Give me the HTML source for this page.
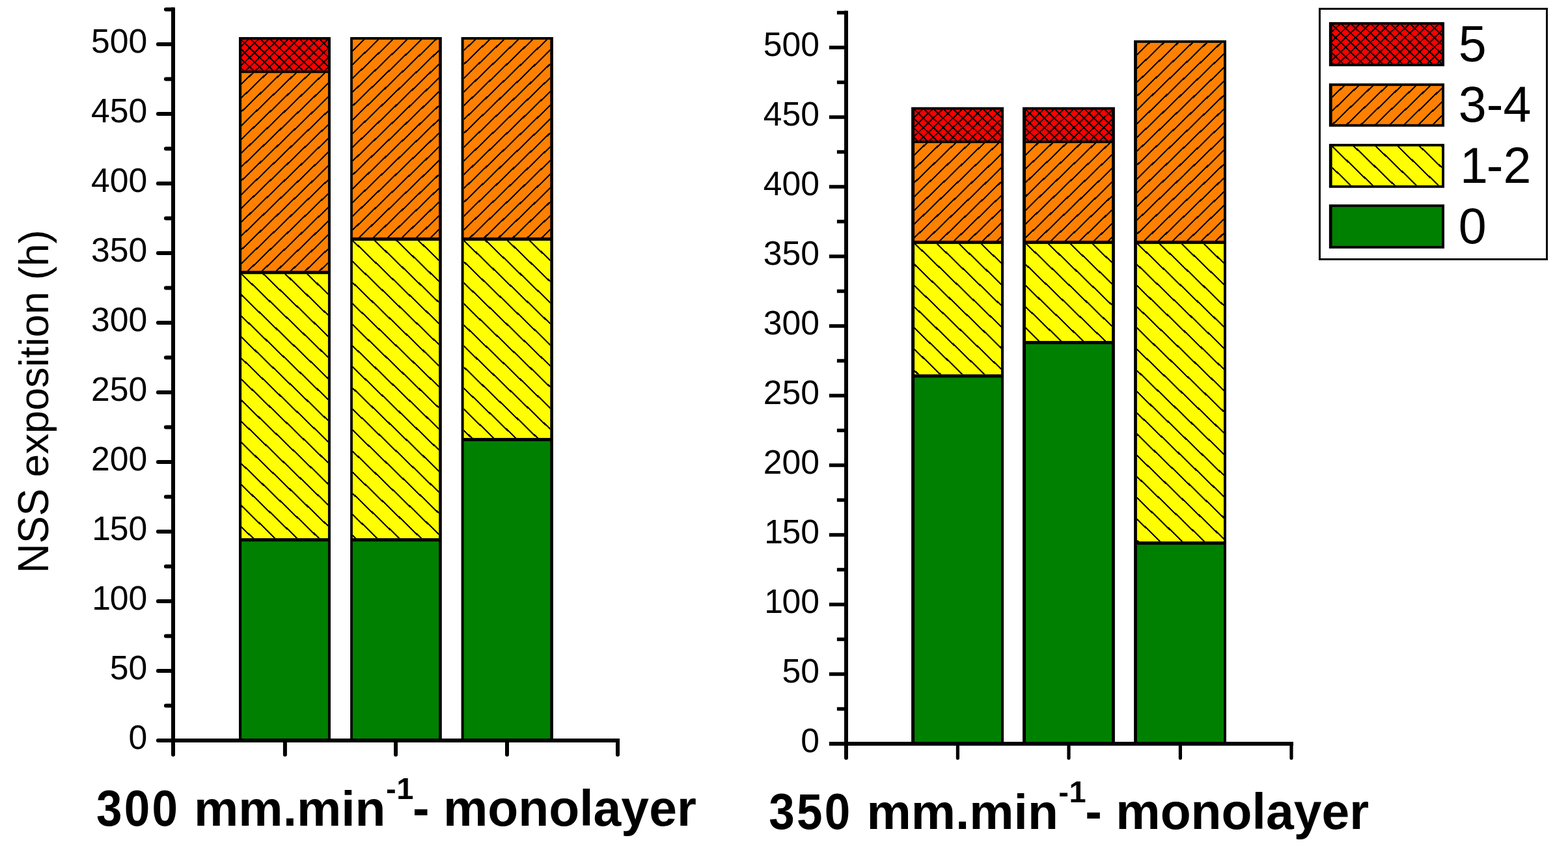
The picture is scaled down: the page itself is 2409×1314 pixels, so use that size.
<!DOCTYPE html>
<html lang="en"><head><meta charset="utf-8"><title>NSS exposition chart</title>
<style>
html,body{margin:0;padding:0;background:#fff;overflow:hidden}
svg{display:block;font-family:"Liberation Sans", sans-serif;fill:#000}
</style></head><body>
<svg width="2409" height="1314" viewBox="0 0 2409 1314" role="img" aria-label="Stacked bar charts of NSS exposition (h) for 300 and 350 mm.min-1 monolayer">
<rect width="2409" height="1314" fill="#fff"/>
<rect x="367" y="56.99" width="140.95" height="1083.01" fill="#000"/>
<rect x="371.1" y="60.89" width="132.8" height="47.46" fill="#ff0000"/>
<clipPath id="c1"><rect x="371.1" y="60.89" width="132.8" height="47.46"/></clipPath>
<path clip-path="url(#c1)" d="M370.1 71.93L504.9 -57.75M370.1 86.53L504.9 -43.15M370.1 101.13L504.9 -28.55M370.1 115.73L504.9 -13.95M370.1 130.33L504.9 0.65M370.1 144.93L504.9 15.25M370.1 159.53L504.9 29.85M370.1 174.13L504.9 44.45M370.1 188.73L504.9 59.05M370.1 203.33L504.9 73.65M370.1 217.93L504.9 88.25M370.1 232.53L504.9 102.85M370.1 -56.05L504.9 73.63M370.1 -41.45L504.9 88.23M370.1 -26.85L504.9 102.83M370.1 -12.25L504.9 117.43M370.1 2.35L504.9 132.03M370.1 16.95L504.9 146.63M370.1 31.55L504.9 161.23M370.1 46.15L504.9 175.83M370.1 60.75L504.9 190.43M370.1 75.35L504.9 205.03M370.1 89.95L504.9 219.63M370.1 104.55L504.9 234.23" stroke="#000" stroke-width="1.95" fill="none" shape-rendering="crispEdges"/>
<rect x="371.1" y="112.25" width="132.8" height="304.01" fill="#ff8000"/>
<clipPath id="c2"><rect x="371.1" y="112.25" width="132.8" height="304.01"/></clipPath>
<path clip-path="url(#c2)" d="M370.1 129.89L504.9 0.21M370.1 151.09L504.9 21.41M370.1 172.29L504.9 42.61M370.1 193.49L504.9 63.81M370.1 214.69L504.9 85.01M370.1 235.89L504.9 106.21M370.1 257.09L504.9 127.41M370.1 278.29L504.9 148.61M370.1 299.49L504.9 169.81M370.1 320.69L504.9 191.01M370.1 341.89L504.9 212.21M370.1 363.09L504.9 233.41M370.1 384.29L504.9 254.61M370.1 405.49L504.9 275.81M370.1 426.69L504.9 297.01M370.1 447.89L504.9 318.21M370.1 469.09L504.9 339.41M370.1 490.29L504.9 360.61M370.1 511.49L504.9 381.81M370.1 532.69L504.9 403.01" stroke="#000" stroke-width="2.2" fill="none" shape-rendering="crispEdges"/>
<rect x="371.1" y="421.26" width="132.8" height="405.88" fill="#ffff00"/>
<clipPath id="c3"><rect x="371.1" y="421.26" width="132.8" height="405.88"/></clipPath>
<path clip-path="url(#c3)" d="M370.1 323.07L504.9 452.75M370.1 355.47L504.9 485.15M370.1 387.87L504.9 517.55M370.1 420.27L504.9 549.95M370.1 452.67L504.9 582.35M370.1 485.07L504.9 614.75M370.1 517.47L504.9 647.15M370.1 549.87L504.9 679.55M370.1 582.27L504.9 711.95M370.1 614.67L504.9 744.35M370.1 647.07L504.9 776.75M370.1 679.47L504.9 809.15M370.1 711.87L504.9 841.55M370.1 744.27L504.9 873.95M370.1 776.67L504.9 906.35M370.1 809.07L504.9 938.75" stroke="#000" stroke-width="2.2" fill="none" shape-rendering="crispEdges"/>
<rect x="371.1" y="832.14" width="132.8" height="303.86" fill="#008000"/>
<rect x="538.1" y="56.99" width="140.7" height="1083.01" fill="#000"/>
<rect x="541.9" y="60.89" width="132.3" height="304.01" fill="#ff8000"/>
<clipPath id="c4"><rect x="541.9" y="60.89" width="132.3" height="304.01"/></clipPath>
<path clip-path="url(#c4)" d="M540.9 78.67L675.2 -50.52M540.9 99.87L675.2 -29.32M540.9 121.07L675.2 -8.12M540.9 142.27L675.2 13.08M540.9 163.47L675.2 34.28M540.9 184.67L675.2 55.48M540.9 205.87L675.2 76.68M540.9 227.07L675.2 97.88M540.9 248.27L675.2 119.08M540.9 269.47L675.2 140.28M540.9 290.67L675.2 161.48M540.9 311.87L675.2 182.68M540.9 333.07L675.2 203.88M540.9 354.27L675.2 225.08M540.9 375.47L675.2 246.28M540.9 396.67L675.2 267.48M540.9 417.87L675.2 288.68M540.9 439.07L675.2 309.88M540.9 460.27L675.2 331.08M540.9 481.47L675.2 352.28" stroke="#000" stroke-width="2.2" fill="none" shape-rendering="crispEdges"/>
<rect x="541.9" y="369.9" width="132.3" height="457.24" fill="#ffff00"/>
<clipPath id="c5"><rect x="541.9" y="369.9" width="132.3" height="457.24"/></clipPath>
<path clip-path="url(#c5)" d="M540.9 271.57L675.2 400.76M540.9 303.97L675.2 433.16M540.9 336.37L675.2 465.56M540.9 368.77L675.2 497.96M540.9 401.17L675.2 530.36M540.9 433.57L675.2 562.76M540.9 465.97L675.2 595.16M540.9 498.37L675.2 627.56M540.9 530.77L675.2 659.96M540.9 563.17L675.2 692.36M540.9 595.57L675.2 724.76M540.9 627.97L675.2 757.16M540.9 660.37L675.2 789.56M540.9 692.77L675.2 821.96M540.9 725.17L675.2 854.36M540.9 757.57L675.2 886.76M540.9 789.97L675.2 919.16M540.9 822.37L675.2 951.56" stroke="#000" stroke-width="2.2" fill="none" shape-rendering="crispEdges"/>
<rect x="541.9" y="832.14" width="132.3" height="303.86" fill="#008000"/>
<rect x="708.6" y="56.99" width="141.3" height="1083.01" fill="#000"/>
<rect x="712.6" y="60.89" width="132.7" height="304.01" fill="#ff8000"/>
<clipPath id="c6"><rect x="712.6" y="60.89" width="132.7" height="304.01"/></clipPath>
<path clip-path="url(#c6)" d="M711.6 78.58L846.3 -51.01M711.6 99.78L846.3 -29.81M711.6 120.98L846.3 -8.61M711.6 142.18L846.3 12.59M711.6 163.38L846.3 33.79M711.6 184.58L846.3 54.99M711.6 205.78L846.3 76.19M711.6 226.98L846.3 97.39M711.6 248.18L846.3 118.59M711.6 269.38L846.3 139.79M711.6 290.58L846.3 160.99M711.6 311.78L846.3 182.19M711.6 332.98L846.3 203.39M711.6 354.18L846.3 224.59M711.6 375.38L846.3 245.79M711.6 396.58L846.3 266.99M711.6 417.78L846.3 288.19M711.6 438.98L846.3 309.39M711.6 460.18L846.3 330.59M711.6 481.38L846.3 351.79" stroke="#000" stroke-width="2.2" fill="none" shape-rendering="crispEdges"/>
<rect x="712.6" y="369.9" width="132.7" height="303.16" fill="#ffff00"/>
<clipPath id="c7"><rect x="712.6" y="369.9" width="132.7" height="303.16"/></clipPath>
<path clip-path="url(#c7)" d="M711.6 271.66L846.3 401.25M711.6 304.06L846.3 433.65M711.6 336.46L846.3 466.05M711.6 368.86L846.3 498.45M711.6 401.26L846.3 530.85M711.6 433.66L846.3 563.25M711.6 466.06L846.3 595.65M711.6 498.46L846.3 628.05M711.6 530.86L846.3 660.45M711.6 563.26L846.3 692.85M711.6 595.66L846.3 725.25M711.6 628.06L846.3 757.65M711.6 660.46L846.3 790.05" stroke="#000" stroke-width="2.2" fill="none" shape-rendering="crispEdges"/>
<rect x="712.6" y="678.06" width="132.7" height="457.94" fill="#008000"/>
<g stroke="#000" stroke-width="6" stroke-linecap="round" fill="none">
<path stroke-width="6" d="M254.9 1084.5H266M242.9 1031H266M254.9 977.5H266M242.9 924H266M254.9 870.5H266M242.9 817H266M254.9 763.5H266M242.9 710H266M254.9 656.5H266M242.9 603H266M254.9 549.5H266M242.9 496H266M254.9 442.5H266M242.9 389H266M254.9 335.5H266M242.9 282H266M254.9 228.5H266M242.9 175H266M254.9 121.5H266M242.9 68H266M254.9 14.5H266"/>
<path stroke-width="6" stroke-linecap="round" d="M437.9 1138V1159.7M608 1138V1159.7M779 1138V1159.7M949 1138V1159.7"/>
<path stroke-linecap="round" d="M242.9 1138H949"/>
<path stroke-linecap="butt" d="M266 11.5V1150M266 1138H952"/>
<path stroke-linecap="round" d="M266 1148V1159.7"/>
</g>
<g font-size="51.7">
<text x="197.44" y="1151.3">0</text>
<text x="168.69" y="1044.3">50</text>
<text y="937.3"><tspan x="141.33">1</tspan><tspan x="168.69">00</tspan></text>
<text y="830.3"><tspan x="141.33">1</tspan><tspan x="168.69">50</tspan></text>
<text x="139.93" y="723.3">200</text>
<text x="139.93" y="616.3">250</text>
<text x="139.93" y="509.3">300</text>
<text x="139.93" y="402.3">350</text>
<text x="139.93" y="295.3">400</text>
<text x="139.93" y="188.3">450</text>
<text x="139.93" y="81.3">500</text>
</g>
<rect x="1400.1" y="164.71" width="142" height="980.29" fill="#000"/>
<rect x="1405.1" y="168.61" width="132.9" height="47.46" fill="#ff0000"/>
<clipPath id="c8"><rect x="1405.1" y="168.61" width="132.9" height="47.46"/></clipPath>
<path clip-path="url(#c8)" d="M1404.1 180.89L1539 51.11M1404.1 195.49L1539 65.71M1404.1 210.09L1539 80.31M1404.1 224.69L1539 94.91M1404.1 239.29L1539 109.51M1404.1 253.89L1539 124.11M1404.1 268.49L1539 138.71M1404.1 283.09L1539 153.31M1404.1 297.69L1539 167.91M1404.1 312.29L1539 182.51M1404.1 326.89L1539 197.11M1404.1 341.49L1539 211.71M1404.1 50.83L1539 180.61M1404.1 65.43L1539 195.21M1404.1 80.03L1539 209.81M1404.1 94.63L1539 224.41M1404.1 109.23L1539 239.01M1404.1 123.83L1539 253.61M1404.1 138.43L1539 268.21M1404.1 153.03L1539 282.81M1404.1 167.63L1539 297.41M1404.1 182.23L1539 312.01M1404.1 196.83L1539 326.61M1404.1 211.43L1539 341.21" stroke="#000" stroke-width="1.95" fill="none" shape-rendering="crispEdges"/>
<rect x="1405.1" y="219.97" width="132.9" height="149.93" fill="#ff8000"/>
<clipPath id="c9"><rect x="1405.1" y="219.97" width="132.9" height="149.93"/></clipPath>
<path clip-path="url(#c9)" d="M1404.1 238.85L1539 109.07M1404.1 260.05L1539 130.27M1404.1 281.25L1539 151.47M1404.1 302.45L1539 172.67M1404.1 323.65L1539 193.87M1404.1 344.85L1539 215.07M1404.1 366.05L1539 236.27M1404.1 387.25L1539 257.47M1404.1 408.45L1539 278.67M1404.1 429.65L1539 299.87M1404.1 450.85L1539 321.07M1404.1 472.05L1539 342.27M1404.1 493.25L1539 363.47" stroke="#000" stroke-width="2.2" fill="none" shape-rendering="crispEdges"/>
<rect x="1405.1" y="374.9" width="132.9" height="200.44" fill="#ffff00"/>
<clipPath id="c10"><rect x="1405.1" y="374.9" width="132.9" height="200.44"/></clipPath>
<path clip-path="url(#c10)" d="M1404.1 275.24L1539 405.02M1404.1 307.85L1539 437.63M1404.1 340.46L1539 470.24M1404.1 373.07L1539 502.85M1404.1 405.68L1539 535.46M1404.1 438.29L1539 568.07M1404.1 470.91L1539 600.68M1404.1 503.52L1539 633.29M1404.1 536.13L1539 665.9M1404.1 568.74L1539 698.51" stroke="#000" stroke-width="2.2" fill="none" shape-rendering="crispEdges"/>
<rect x="1405.1" y="580.34" width="132.9" height="560.66" fill="#008000"/>
<rect x="1571" y="164.71" width="141.9" height="980.29" fill="#000"/>
<rect x="1576" y="168.61" width="132.1" height="47.46" fill="#ff0000"/>
<clipPath id="c11"><rect x="1576" y="168.61" width="132.1" height="47.46"/></clipPath>
<path clip-path="url(#c11)" d="M1575 180.89L1709.1 51.88M1575 195.49L1709.1 66.48M1575 210.09L1709.1 81.08M1575 224.69L1709.1 95.68M1575 239.29L1709.1 110.28M1575 253.89L1709.1 124.88M1575 268.49L1709.1 139.48M1575 283.09L1709.1 154.08M1575 297.69L1709.1 168.68M1575 312.29L1709.1 183.28M1575 326.89L1709.1 197.88M1575 341.49L1709.1 212.48M1575 50.83L1709.1 179.84M1575 65.43L1709.1 194.44M1575 80.03L1709.1 209.04M1575 94.63L1709.1 223.64M1575 109.23L1709.1 238.24M1575 123.83L1709.1 252.84M1575 138.43L1709.1 267.44M1575 153.03L1709.1 282.04M1575 167.63L1709.1 296.64M1575 182.23L1709.1 311.24M1575 196.83L1709.1 325.84M1575 211.43L1709.1 340.44" stroke="#000" stroke-width="1.95" fill="none" shape-rendering="crispEdges"/>
<rect x="1576" y="219.97" width="132.1" height="149.93" fill="#ff8000"/>
<clipPath id="c12"><rect x="1576" y="219.97" width="132.1" height="149.93"/></clipPath>
<path clip-path="url(#c12)" d="M1575 238.85L1709.1 109.84M1575 260.05L1709.1 131.04M1575 281.25L1709.1 152.24M1575 302.45L1709.1 173.44M1575 323.65L1709.1 194.64M1575 344.85L1709.1 215.84M1575 366.05L1709.1 237.04M1575 387.25L1709.1 258.24M1575 408.45L1709.1 279.44M1575 429.65L1709.1 300.64M1575 450.85L1709.1 321.84M1575 472.05L1709.1 343.04M1575 493.25L1709.1 364.24" stroke="#000" stroke-width="2.2" fill="none" shape-rendering="crispEdges"/>
<rect x="1576" y="374.9" width="132.1" height="149.08" fill="#ffff00"/>
<clipPath id="c13"><rect x="1576" y="374.9" width="132.1" height="149.08"/></clipPath>
<path clip-path="url(#c13)" d="M1575 275.24L1709.1 404.25M1575 307.85L1709.1 436.86M1575 340.46L1709.1 469.47M1575 373.07L1709.1 502.08M1575 405.68L1709.1 534.69M1575 438.29L1709.1 567.3M1575 470.91L1709.1 599.91M1575 503.52L1709.1 632.52" stroke="#000" stroke-width="2.2" fill="none" shape-rendering="crispEdges"/>
<rect x="1576" y="528.98" width="132.1" height="612.02" fill="#008000"/>
<rect x="1742.1" y="61.99" width="141.9" height="1083.01" fill="#000"/>
<rect x="1746.9" y="65.89" width="133.1" height="304.01" fill="#ff8000"/>
<clipPath id="c14"><rect x="1746.9" y="65.89" width="133.1" height="304.01"/></clipPath>
<path clip-path="url(#c14)" d="M1745.9 84.86L1881 -45.1M1745.9 106.06L1881 -23.9M1745.9 127.26L1881 -2.7M1745.9 148.46L1881 18.5M1745.9 169.66L1881 39.7M1745.9 190.86L1881 60.9M1745.9 212.06L1881 82.1M1745.9 233.26L1881 103.3M1745.9 254.46L1881 124.5M1745.9 275.66L1881 145.7M1745.9 296.86L1881 166.9M1745.9 318.06L1881 188.1M1745.9 339.26L1881 209.3M1745.9 360.46L1881 230.5M1745.9 381.66L1881 251.7M1745.9 402.86L1881 272.9M1745.9 424.06L1881 294.1M1745.9 445.26L1881 315.3M1745.9 466.46L1881 336.5M1745.9 487.66L1881 357.7" stroke="#000" stroke-width="2.2" fill="none" shape-rendering="crispEdges"/>
<rect x="1746.9" y="374.9" width="133.1" height="457.24" fill="#ffff00"/>
<clipPath id="c15"><rect x="1746.9" y="374.9" width="133.1" height="457.24"/></clipPath>
<path clip-path="url(#c15)" d="M1745.9 275.15L1881 405.11M1745.9 307.76L1881 437.72M1745.9 340.37L1881 470.33M1745.9 372.98L1881 502.94M1745.9 405.59L1881 535.55M1745.9 438.2L1881 568.16M1745.9 470.81L1881 600.78M1745.9 503.42L1881 633.39M1745.9 536.03L1881 666M1745.9 568.64L1881 698.61M1745.9 601.25L1881 731.22M1745.9 633.86L1881 763.83M1745.9 666.47L1881 796.44M1745.9 699.08L1881 829.05M1745.9 731.69L1881 861.66M1745.9 764.3L1881 894.27M1745.9 796.91L1881 926.88M1745.9 829.53L1881 959.49" stroke="#000" stroke-width="2.2" fill="none" shape-rendering="crispEdges"/>
<rect x="1746.9" y="837.14" width="133.1" height="303.86" fill="#008000"/>
<g stroke="#000" stroke-width="6" stroke-linecap="butt" fill="none">
<path stroke-width="5.7" d="M1285.9 1089.5H1300M1273.9 1036H1300M1285.9 982.5H1300M1273.9 929H1300M1285.9 875.5H1300M1273.9 822H1300M1285.9 768.5H1300M1273.9 715H1300M1285.9 661.5H1300M1273.9 608H1300M1285.9 554.5H1300M1273.9 501H1300M1285.9 447.5H1300M1273.9 394H1300M1285.9 340.5H1300M1273.9 287H1300M1285.9 233.5H1300M1273.9 180H1300M1285.9 126.5H1300M1273.9 73H1300M1285.9 19.5H1300"/>
<path stroke-width="5.2" stroke-linecap="round" d="M1471.4 1143V1165.1M1642 1143V1165.1M1813.4 1143V1165.1M1984 1143V1165.1"/>
<path stroke-linecap="butt" d="M1273.9 1143H1984"/>
<path stroke-linecap="butt" d="M1300 16.5V1155M1300 1143H1987"/>
<path stroke-linecap="round" d="M1300 1153V1164.7"/>
</g>
<g font-size="51.7">
<text x="1230.24" y="1156.3">0</text>
<text x="1201.49" y="1049.3">50</text>
<text y="942.3"><tspan x="1174.13">1</tspan><tspan x="1201.49">00</tspan></text>
<text y="835.3"><tspan x="1174.13">1</tspan><tspan x="1201.49">50</tspan></text>
<text x="1172.73" y="728.3">200</text>
<text x="1172.73" y="621.3">250</text>
<text x="1172.73" y="514.3">300</text>
<text x="1172.73" y="407.3">350</text>
<text x="1172.73" y="300.3">400</text>
<text x="1172.73" y="193.3">450</text>
<text x="1172.73" y="86.3">500</text>
</g>
<text transform="translate(74.2 880.9) rotate(-90) scale(1 1.045)" font-size="63.3">NSS</text> 
<text transform="translate(74.2 733.16) rotate(-90)" font-size="63.3">exposition (h)</text>
<g font-weight="bold"><text transform="translate(148 1269.2) scale(0.925 1.02)" font-size="76.8" letter-spacing="3.46">300</text> <text x="298.08" y="1269.2" font-size="76.8">mm.min</text><text y="1227.7" font-size="47"><tspan x="593">-</tspan><tspan x="609.2">1</tspan></text> <text x="634" y="1269.2" font-size="76.9">- monolayer</text></g>
<g font-weight="bold"><text transform="translate(1181.3 1274) scale(0.925 1.02)" font-size="76.8" letter-spacing="3.46">350</text> <text x="1331.38" y="1274" font-size="76.8">mm.min</text><text y="1232.5" font-size="47"><tspan x="1626.3">-</tspan><tspan x="1642.5">1</tspan></text> <text x="1667.3" y="1274" font-size="76.9">- monolayer</text></g>
<rect x="2027.5" y="13.5" width="349" height="385" fill="#fff" stroke="#000" stroke-width="3"/>
<rect x="2041.9" y="34.05" width="177.15" height="67.7" fill="#000"/>
<rect x="2046.7" y="37.95" width="168.45" height="59.9" fill="#ff0000"/>
<clipPath id="c16"><rect x="2046.7" y="37.95" width="168.45" height="59.9"/></clipPath>
<path clip-path="url(#c16)" d="M2045.7 49.54L2216.15 -114.43M2045.7 64.14L2216.15 -99.83M2045.7 78.74L2216.15 -85.23M2045.7 93.34L2216.15 -70.63M2045.7 107.94L2216.15 -56.03M2045.7 122.54L2216.15 -41.43M2045.7 137.14L2216.15 -26.83M2045.7 151.74L2216.15 -12.23M2045.7 166.34L2216.15 2.37M2045.7 180.94L2216.15 16.97M2045.7 195.54L2216.15 31.57M2045.7 210.14L2216.15 46.17M2045.7 224.74L2216.15 60.77M2045.7 239.34L2216.15 75.37M2045.7 253.94L2216.15 89.97M2045.7 -123.54L2216.15 40.43M2045.7 -108.94L2216.15 55.03M2045.7 -94.34L2216.15 69.63M2045.7 -79.74L2216.15 84.23M2045.7 -65.14L2216.15 98.83M2045.7 -50.54L2216.15 113.43M2045.7 -35.94L2216.15 128.03M2045.7 -21.34L2216.15 142.63M2045.7 -6.74L2216.15 157.23M2045.7 7.86L2216.15 171.83M2045.7 22.46L2216.15 186.43M2045.7 37.06L2216.15 201.03M2045.7 51.66L2216.15 215.63M2045.7 66.26L2216.15 230.23M2045.7 80.86L2216.15 244.83M2045.7 95.46L2216.15 259.43" stroke="#000" stroke-width="1.95" fill="none" shape-rendering="crispEdges"/>
<rect x="2041.9" y="128.2" width="177.15" height="66.5" fill="#000"/>
<rect x="2046.7" y="132.1" width="168.45" height="58.7" fill="#ff8000"/>
<clipPath id="c17"><rect x="2046.7" y="132.1" width="168.45" height="58.7"/></clipPath>
<path clip-path="url(#c17)" d="M2045.7 150.29L2216.15 -13.68M2045.7 171.49L2216.15 7.52M2045.7 192.69L2216.15 28.72M2045.7 213.89L2216.15 49.92M2045.7 235.09L2216.15 71.12M2045.7 256.29L2216.15 92.32M2045.7 277.49L2216.15 113.52M2045.7 298.69L2216.15 134.72M2045.7 319.89L2216.15 155.92M2045.7 341.09L2216.15 177.12" stroke="#000" stroke-width="2.2" fill="none" shape-rendering="crispEdges"/>
<rect x="2041.9" y="221.1" width="177.15" height="67.6" fill="#000"/>
<rect x="2046.7" y="225" width="168.45" height="59.8" fill="#ffff00"/>
<clipPath id="c18"><rect x="2046.7" y="225" width="168.45" height="59.8"/></clipPath>
<path clip-path="url(#c18)" d="M2045.7 62.11L2216.15 226.08M2045.7 94.51L2216.15 258.48M2045.7 126.91L2216.15 290.88M2045.7 159.31L2216.15 323.28M2045.7 191.71L2216.15 355.68M2045.7 224.11L2216.15 388.08M2045.7 256.51L2216.15 420.48" stroke="#000" stroke-width="2.2" fill="none" shape-rendering="crispEdges"/>
<rect x="2041.9" y="314.2" width="177.15" height="67.7" fill="#000"/>
<rect x="2046.7" y="318.1" width="168.45" height="59.9" fill="#008000"/>
<g font-size="77.3">
<text x="2240.7" y="94.1">5</text>
<text x="2240.7" y="187">3-4</text>
<text y="280.6"><tspan x="2243">1</tspan><tspan x="2283.69">-2</tspan></text>
<text x="2240.7" y="374">0</text>
</g>
</svg></body></html>
